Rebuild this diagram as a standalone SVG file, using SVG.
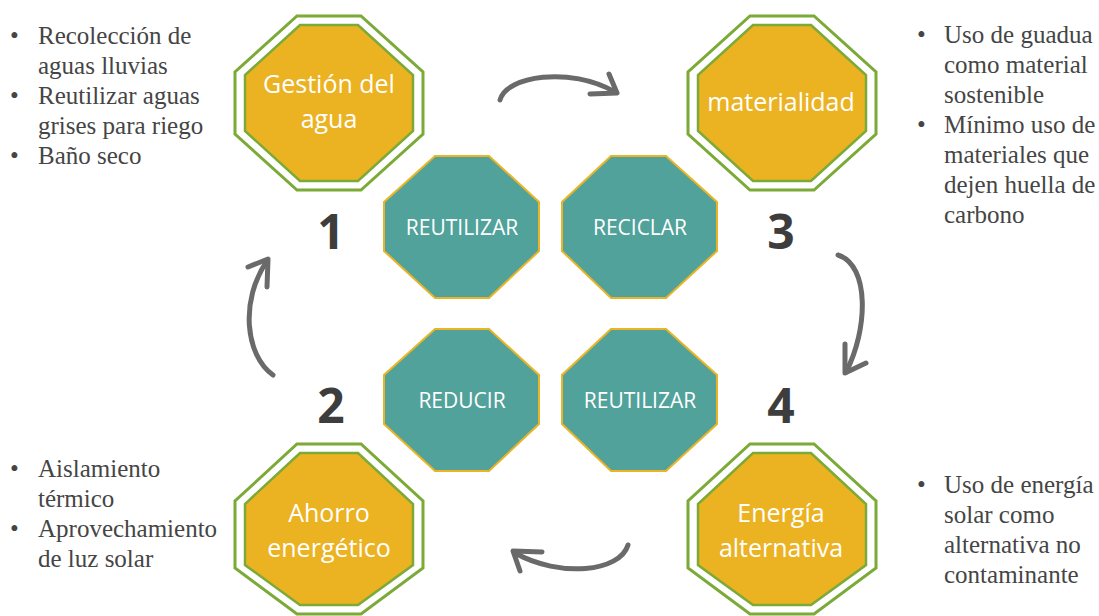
<svg xmlns="http://www.w3.org/2000/svg" width="1099" height="616" viewBox="0 0 1099 616">
<style>
.outer{fill:#FFFFFF;stroke:#7BAA36;stroke-width:3;stroke-linejoin:miter}
.inner{fill:#EBB222;stroke:#7BAA36;stroke-width:2.5}
.teal{fill:#50A29B;stroke:#E9B526;stroke-width:2}
.gt{font-family:"Open Sans","Noto Sans",sans-serif;font-size:25px;fill:#FFFFFF;text-anchor:middle}
.tt{font-family:"Open Sans","Noto Sans",sans-serif;font-size:21px;fill:#FFFFFF;text-anchor:middle}
.num{font-family:"Open Sans","Liberation Sans",sans-serif;font-size:48px;font-weight:bold;fill:#3D3D3D;text-anchor:middle}
.bl{font-family:"Liberation Serif","Times New Roman",serif;font-size:25px;fill:#454545}
.arr{fill:none;stroke:#6A6A6A;stroke-width:5;stroke-linecap:round;stroke-linejoin:round}
</style>
<rect width="1099" height="616" fill="#FFFFFF"/>

<g id="node-gestion-agua">
<polygon class="outer" points="297,16 361,16 423,72 423,134 361,190 297,190 235,134 235,72"/>
<polygon class="inner" points="300,25 358,25 413,75 413,131 358,181 300,181 245,131 245,75"/>
<text class="gt" x="329" y="93">Gestión del</text>
<text class="gt" x="329" y="128">agua</text>
</g>

<g id="node-materialidad">
<polygon class="outer" points="750,16 814,16 876,72 876,134 814,190 750,190 688,134 688,72"/>
<polygon class="inner" points="753,25 811,25 866,75 866,131 811,181 753,181 698,131 698,75"/>
<text class="gt" x="781" y="111">materialidad</text>
</g>

<g id="node-ahorro">
<polygon class="outer" points="297,444 361,444 423,501 423,568 361,614 297,614 235,568 235,501"/>
<polygon class="inner" points="300,453 358,453 413,504 413,565 358,605 300,605 245,565 245,504"/>
<text class="gt" x="329" y="522">Ahorro</text>
<text class="gt" x="329" y="557">energético</text>
</g>

<g id="node-energia">
<polygon class="outer" points="750,444 814,444 876,501 876,568 814,614 750,614 688,568 688,501"/>
<polygon class="inner" points="753,453 811,453 866,504 866,565 811,605 753,605 698,565 698,504"/>
<text class="gt" x="781" y="522">Energía</text>
<text class="gt" x="781" y="557">alternativa</text>
</g>

<g id="node-reutilizar-1">
<polygon class="teal" points="435,156 489,156 539,202 539,251 489,298 435,298 384,251 384,202"/>
<text class="tt" x="462" y="235">REUTILIZAR</text>
</g>
<g id="node-reciclar">
<polygon class="teal" points="611,156 666,156 717,202 717,251 666,298 611,298 562,251 562,202"/>
<text class="tt" x="640" y="235">RECICLAR</text>
</g>
<g id="node-reducir">
<polygon class="teal" points="435,329 489,329 539,375 539,424 489,471 435,471 384,424 384,375"/>
<text class="tt" x="462" y="408">REDUCIR</text>
</g>
<g id="node-reutilizar-2">
<polygon class="teal" points="611,329 666,329 717,375 717,424 666,471 611,471 562,424 562,375"/>
<text class="tt" x="640" y="408">REUTILIZAR</text>
</g>

<g id="numbers">
<text class="num" x="331" y="249">1</text>
<text class="num" x="331" y="423">2</text>
<text class="num" x="781" y="249">3</text>
<text class="num" x="781" y="423">4</text>
</g>

<g id="connectors">
<path class="arr" d="M500,100 C506,76 570,66 615,92"/>
<path class="arr" d="M609,74 L617,93 L590,94"/>
<path class="arr" d="M838,255 C870,265 868,330 846,372"/>
<path class="arr" d="M845,344 L845,373 L866,363"/>
<path class="arr" d="M628,545 C620,572 560,578 515,553"/>
<path class="arr" d="M542,552 L513,551 L520,571"/>
<path class="arr" d="M273,375 C245,355 240,300 267,261"/>
<path class="arr" d="M248,267 L268,259 L267,287"/>
</g>

<g id="text-agua">
<text class="bl" x="10" y="44">•</text>
<text class="bl" x="38" y="44">Recolección de</text>
<text class="bl" x="38" y="74">aguas lluvias</text>
<text class="bl" x="10" y="104">•</text>
<text class="bl" x="38" y="104">Reutilizar aguas</text>
<text class="bl" x="38" y="134">grises para riego</text>
<text class="bl" x="10" y="164">•</text>
<text class="bl" x="38" y="164">Baño seco</text>
</g>

<g id="text-materialidad">
<text class="bl" x="917" y="43">•</text>
<text class="bl" x="944" y="43">Uso de guadua</text>
<text class="bl" x="944" y="73">como material</text>
<text class="bl" x="944" y="103">sostenible</text>
<text class="bl" x="917" y="133">•</text>
<text class="bl" x="944" y="133">Mínimo uso de</text>
<text class="bl" x="944" y="163">materiales que</text>
<text class="bl" x="944" y="193">dejen huella de</text>
<text class="bl" x="944" y="223">carbono</text>
</g>

<g id="text-ahorro">
<text class="bl" x="10" y="477">•</text>
<text class="bl" x="38" y="477">Aislamiento</text>
<text class="bl" x="38" y="507">térmico</text>
<text class="bl" x="10" y="537">•</text>
<text class="bl" x="38" y="537">Aprovechamiento</text>
<text class="bl" x="38" y="567">de luz solar</text>
</g>

<g id="text-energia">
<text class="bl" x="917" y="493">•</text>
<text class="bl" x="944" y="493">Uso de energía</text>
<text class="bl" x="944" y="523">solar como</text>
<text class="bl" x="944" y="553">alternativa no</text>
<text class="bl" x="944" y="583">contaminante</text>
</g>
</svg>
